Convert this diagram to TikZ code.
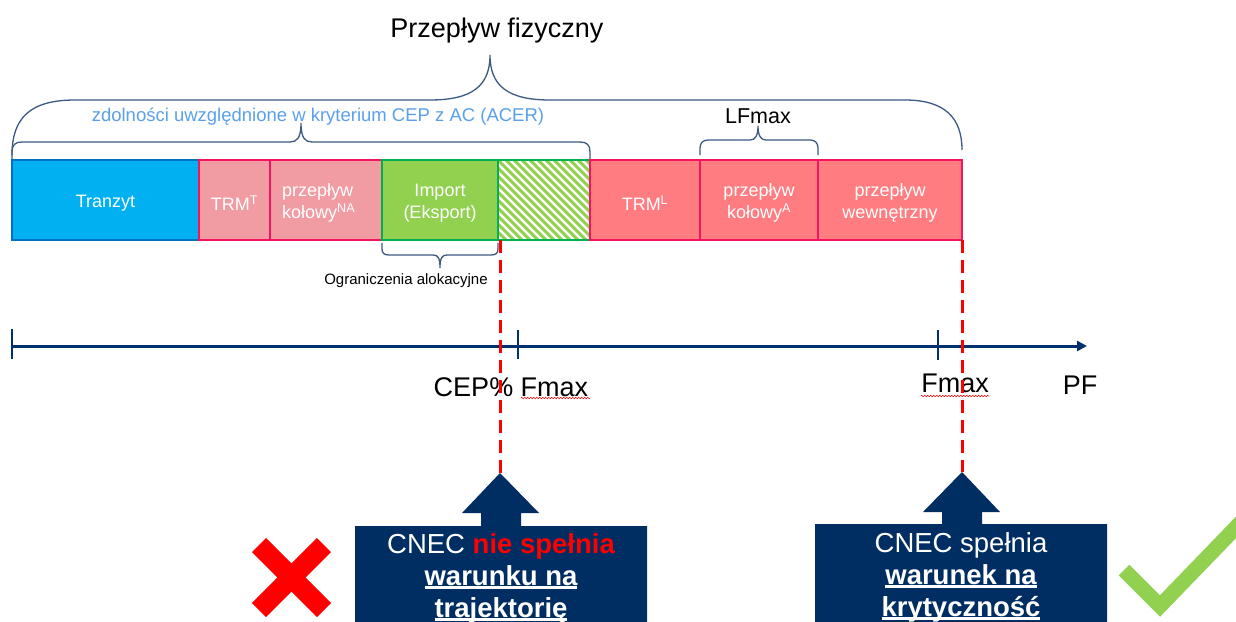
\documentclass[tikz,border=0pt]{standalone}
\usepackage{fontspec}
\setmainfont{Liberation Sans}
\usetikzlibrary{arrows.meta,decorations.pathmorphing}
\definecolor{tranzfill}{RGB}{0,176,240}
\definecolor{tranzdraw}{RGB}{0,112,192}
\definecolor{pinkfill}{RGB}{241,155,163}
\definecolor{crimson}{RGB}{245,20,95}
\definecolor{redfill}{RGB}{255,124,128}
\definecolor{grfill}{RGB}{146,208,80}
\definecolor{grdraw}{RGB}{0,176,80}
\definecolor{navy}{RGB}{0,45,98}
\definecolor{axiscol}{RGB}{0,48,110}
\definecolor{bracecol}{RGB}{60,90,130}
\definecolor{ltblue}{RGB}{90,160,235}
\definecolor{xred}{RGB}{255,0,0}
\newcommand\ulbar[1]{\setbox0\hbox{#1}\rlap{\rule[-3.5pt]{\wd0}{2.2pt}}\box0}
\begin{document}
\begin{tikzpicture}[x=1pt,y=-1pt,
  seg/.style={draw, line width=2.5pt, minimum height=80pt, anchor=north west,
    inner sep=0pt, outer sep=0pt},
  segtxt/.style={text=white, font=\fontsize{18}{22}\selectfont, align=center, inner sep=0pt},
  bracel/.style={draw=bracecol, line width=1.3pt},
  lbl/.style={font=\fontsize{27}{32}\selectfont, inner sep=0pt},
  boxtxt/.style={font=\fontsize{27.5}{32}\selectfont, text=white, inner sep=0pt},
  redash/.style={draw=xred, line width=3pt, dash pattern=on 13pt off 7pt},
  tick/.style={draw=axiscol, line width=2.4pt},
  squig/.style={draw=xred, line width=0.5pt, decorate, decoration={zigzag, segment length=3pt, amplitude=0.8pt}}
]
\useasboundingbox (0,0) rectangle (1236,621);
\fill[white] (0,0) rectangle (1236,621);
\clip (0,0) rectangle (1236,621);

% top labels
\node[lbl] (pf) at (497,31) {Przepływ fizyczny};
\node[font=\fontsize{18.5}{22}\selectfont, text=ltblue, inner sep=0pt] (zd) at (318,117) {zdolności uwzględnione w kryterium CEP z AC (ACER)};
\node[font=\fontsize{21.5}{25}\selectfont, inner sep=0pt] (lf) at (758,116) {LFmax};

% braces
\path[bracel] (12,155) .. controls (12,118) and (30,100) .. (75,100) -- (430,100)
  .. controls (472,100) and (490,86) .. (490,55)
  .. controls (490,86) and (508,100) .. (550,100) -- (905,100)
  .. controls (945,100) and (962,118) .. (962,150);
\path[bracel] (12,160) -- (12,152) .. controls (12,145) and (15,142) .. (22,142) -- (290,142)
  .. controls (297,142) and (301,138) .. (301,123)
  .. controls (301,138) and (305,142) .. (312,142) -- (580,142)
  .. controls (587,142) and (590,145) .. (590,152) -- (590,160);
\path[bracel] (700,155) -- (700,148) .. controls (700,143) and (703,140) .. (708,140) -- (750,140)
  .. controls (755,140) and (758,136) .. (758,126)
  .. controls (758,136) and (761,140) .. (766,140) -- (810,140)
  .. controls (815,140) and (818,143) .. (818,148) -- (818,155);
\path[bracel] (382,243) -- (382,249) .. controls (382,253) and (384,255) .. (389,255) -- (433,255)
  .. controls (438,255) and (440,258) .. (440,268)
  .. controls (440,258) and (442,255) .. (447,255) -- (491,255)
  .. controls (496,255) and (498,253) .. (498,249) -- (498,243);
\node[font=\fontsize{15}{18}\selectfont, inner sep=0pt] (og) at (406,281) {Ograniczenia alokacyjne};

% bar segments
\node[seg, fill=tranzfill, draw=tranzdraw, minimum width=187pt] (tr) at (12,160) {};
\node[seg, fill=pinkfill, draw=crimson, minimum width=71pt] (trmt) at (199,160) {};
\node[seg, fill=pinkfill, draw=crimson, minimum width=112pt] (kna) at (270,160) {};
\node[seg, fill=grfill, draw=grdraw, minimum width=116pt] (imp) at (382,160) {};
\node[seg, fill=white, draw=grdraw, minimum width=92pt] (hat) at (498,160) {};
\begin{scope}
  \clip (hat.north west) rectangle (hat.south east);
  \foreach \i in {-88,-80,...,96} \draw[grfill, line width=3pt] ([xshift=\i pt]hat.north west) -- ++(84,84);
\end{scope}
\draw[grdraw, line width=2.5pt] (hat.north west) rectangle (hat.south east);
\node[seg, fill=redfill, draw=crimson, minimum width=110pt] (trml) at (590,160) {};
\node[seg, fill=redfill, draw=crimson, minimum width=118pt] (ka) at (700,160) {};
\node[seg, fill=redfill, draw=crimson, minimum width=144pt] (wew) at (818,160) {};

\node[segtxt] (trt) at ([yshift=-3pt]tr.center) {Tranzyt};
\node[segtxt] (trmtt) at ([yshift=-3pt]trmt.center) {TRM\textsuperscript{T}};
\node[segtxt, anchor=west, align=left] (knat) at (282,203) {przepływ\\kołowy\textsuperscript{NA}};
\node[segtxt] (impt) at ([yshift=-3pt]imp.center) {Import\\(Eksport)};
\node[segtxt] (trmlt) at ([yshift=-3pt]trml.center) {TRM\textsuperscript{L}};
\node[segtxt] (kat) at ([yshift=-3pt]ka.center) {przepływ\\kołowy\textsuperscript{A}};
\node[segtxt] (wewt) at ([yshift=-3pt]wew.center) {przepływ\\wewnętrzny};

% axis
\coordinate (ax0) at (12,346);
\coordinate (ax1) at (1087,346);
\draw[axiscol, line width=3pt, -{Triangle[length=10pt,width=10pt]}] (ax0) -- (ax1);
\draw[tick] (12,329) -- (12,359);
\draw[tick] (518,330) -- (518,359);
\draw[tick] (938,330) -- (938,360);
\node[lbl] (cep) at (511,387) {CEP\% Fmax};
\node[lbl] (fm2) at (955,383) {Fmax};
\node[lbl] (pfl) at (1080,385) {PF};
\path[squig] (521,398) -- (590,398);
\path[squig] (921,396) -- (989,396);

% block arrows
\coordinate (t1) at (500,473);
\coordinate (t2) at (962,472);
\fill[navy] (355,526) -- (481,526) -- (481,513) -- (462,513) -- (t1) -- (539,513) -- (521,513)
  -- (521,526) -- (647,526) -- (647,640) -- (355,640) -- cycle;
\fill[navy] (815,524) -- (942,524) -- (942,512) -- (923,512) -- (t2) -- (1000,512) -- (982,512)
  -- (982,524) -- (1107,524) -- (1107,640) -- (815,640) -- cycle;
\draw[redash] (imp.south east -| t1) -- (t1);
\draw[redash] (wew.south east -| t2) -- (t2);

\node[boxtxt, anchor=base] (b1a) at (501,553) {CNEC \textbf{\textcolor{xred}{nie spełnia}}};
\node[boxtxt, anchor=base] (b1b) at (501,585) {\bfseries\ulbar{warunku na}};
\node[boxtxt, anchor=base] (b1c) at (501,617) {\bfseries\ulbar{trajektorię}};
\node[boxtxt, anchor=base] (b2a) at (961,552) {CNEC spełnia};
\node[boxtxt, anchor=base] (b2b) at (961,584) {\bfseries\ulbar{warunek na}};
\node[boxtxt, anchor=base] (b2c) at (961,616) {\bfseries\ulbar{krytyczność}};

% cross and check
\draw[xred, line width=20pt] (259,545) -- (324,610);
\draw[xred, line width=20pt] (259,610) -- (324,545);
\draw[grfill, line width=15pt, miter limit=10] (1124,570) -- (1160,606) -- (1245,518);
\end{tikzpicture}
\end{document}
